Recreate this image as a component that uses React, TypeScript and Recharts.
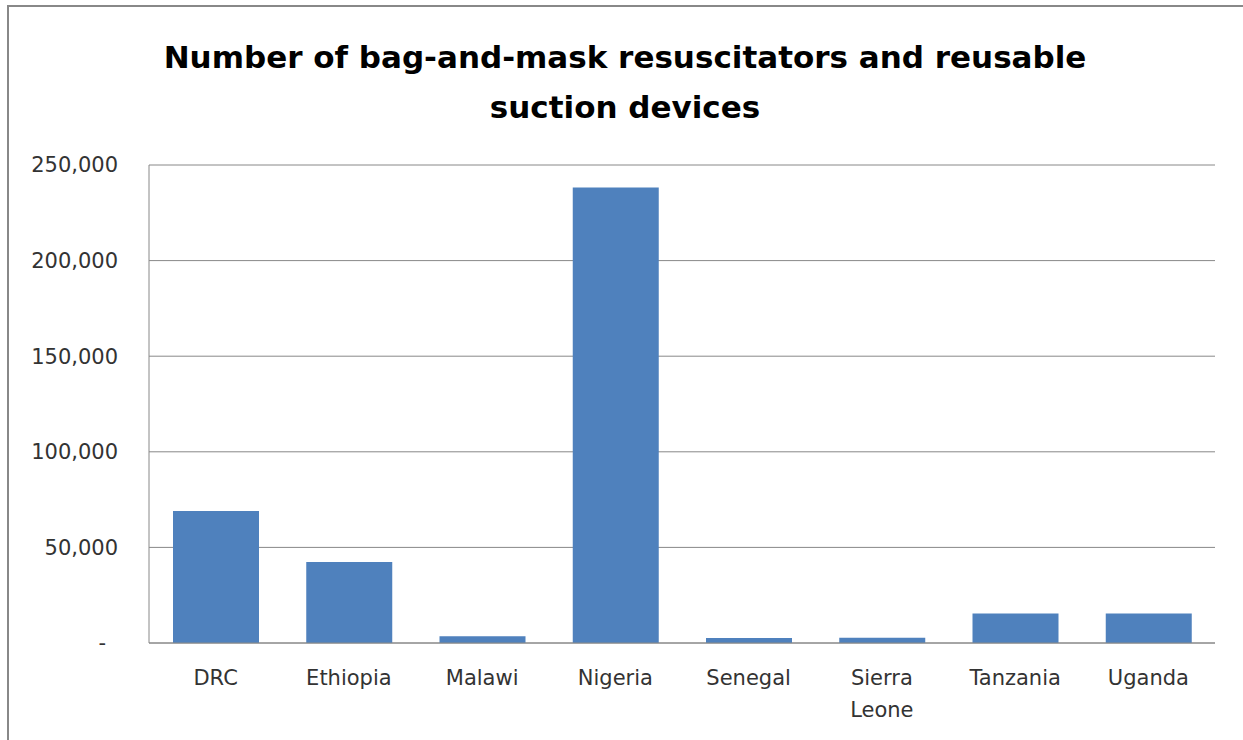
import { Bar, BarChart, CartesianGrid, XAxis, YAxis } from "recharts";

const titleLines = ["Number of bag-and-mask resuscitators and reusable", "suction devices"];
const categories = ["DRC", "Ethiopia", "Malawi", "Nigeria", "Senegal", "Sierra Leone", "Tanzania", "Uganda"];
const devices = [69000, 42400, 3500, 238200, 2600, 2700, 15400, 15400];
const yTicks = [0, 50000, 100000, 150000, 200000, 250000];

const data = categories.map((name, i) => ({ name, value: devices[i] }));

const FONT = "'DejaVu Sans', sans-serif";
const TEXT = "#333";
const RULE = "#888";

function XTick({ x, y, payload }: any) {
  const lines = String(payload.value).split(" ");
  return (
    <text x={x} y={y + 35} textAnchor="middle" fill={TEXT} fontSize={21} fontFamily={FONT}>
      {lines.map((l, i) => (
        <tspan key={i} x={x} dy={i === 0 ? "0.35em" : 32}>
          {l}
        </tspan>
      ))}
    </text>
  );
}

function YTick({ x, y, payload }: any) {
  const v = payload.value as number;
  // accounting style: zero shows as a dash, set in from the right
  return (
    <text
      x={v === 0 ? x - 12 : x}
      y={y}
      dy="0.35em"
      textAnchor="end"
      fill={TEXT}
      fontSize={21}
      fontFamily={FONT}
    >
      {v === 0 ? "-" : v.toLocaleString("en-US")}
    </text>
  );
}

export default function App() {
  return (
    <div
      style={{
        position: "absolute",
        left: 0,
        top: 0,
        width: 1243,
        height: 740,
        overflow: "hidden",
        background: "#fff",
      }}
    >
      <div
        style={{
          position: "absolute",
          left: 7,
          top: 5,
          width: 1400,
          height: 900,
          borderTop: `2px solid ${RULE}`,
          borderLeft: `2px solid ${RULE}`,
        }}
      />
      <div
        style={{
          position: "absolute",
          left: 0,
          top: 32,
          width: 1250,
          textAlign: "center",
          fontFamily: FONT,
          fontWeight: 700,
          fontSize: 31,
          lineHeight: "50px",
          color: "#000",
        }}
      >
        {titleLines.map((t) => (
          <div key={t}>{t}</div>
        ))}
      </div>
      <div style={{ position: "absolute", left: 0, top: 0 }}>
        <BarChart width={1243} height={740} data={data} margin={{ top: 165, right: 28, bottom: 0, left: 0 }}>
          <CartesianGrid stroke={RULE} vertical={false} />
          <XAxis
            dataKey="name"
            height={97}
            interval={0}
            tickLine={false}
            tickSize={0}
            tickMargin={0}
            axisLine={{ stroke: RULE }}
            tick={<XTick />}
          />
          <YAxis
            width={149}
            domain={[0, 250000]}
            ticks={yTicks}
            tickLine={false}
            tickSize={0}
            tickMargin={31}
            axisLine={{ stroke: RULE }}
            tick={<YTick />}
          />
          <Bar dataKey="value" fill="#4F81BD" barSize={86} isAnimationActive={false} />
        </BarChart>
      </div>
    </div>
  );
}
